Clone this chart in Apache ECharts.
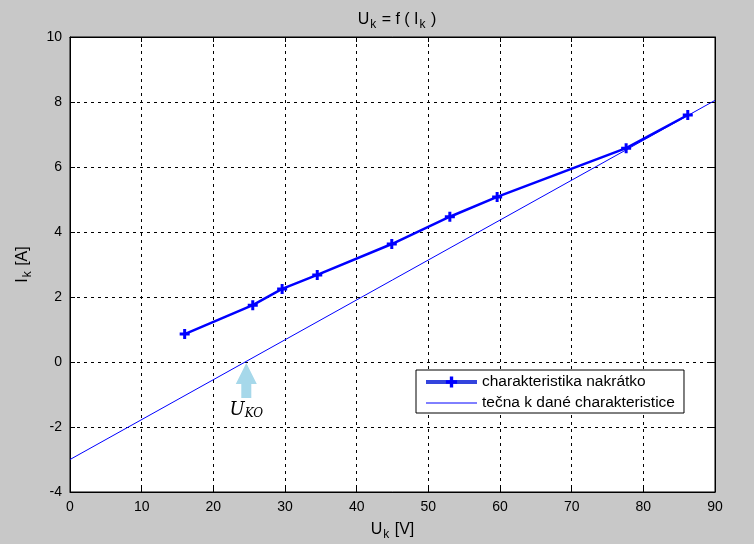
<!DOCTYPE html>
<html><head><meta charset="utf-8">
<script src="https://cdn.jsdelivr.net/npm/echarts@6/dist/echarts.min.js"></script>
<style>html,body{margin:0;padding:0;background:#c8c8c8;}#c{width:754px;height:544px;}</style>
</head><body><div id="c"></div>
<script>
const measU = [16.0, 25.5, 29.6, 34.5, 44.9, 53.0, 59.6, 77.6, 86.2];
const measI = [0.86, 1.75, 2.25, 2.68, 3.63, 4.47, 5.08, 6.58, 7.6];
const tangentU = [0, 90];
const tangentI = [-3.0, 8.05];
const ukoPoint = [24.6, -0.57];
const xTicks = [0, 10, 20, 30, 40, 50, 60, 70, 80, 90];
const yTicks = [-4, -2, 0, 2, 4, 6, 8, 10];
const seriesNames = ['charakteristika nakrátko', 'tečna k dané charakteristice'];

const chart = echarts.init(document.getElementById('c'), null, {renderer: 'canvas'});
const font = 'Liberation Sans, Arial, sans-serif';
const plus = 'path://M3.5,0H6.5V3.5H10V6.5H6.5V10H3.5V6.5H0V3.5H3.5Z';
const blue = '#0000ff';
const axisCommon = {
  axisLine: {show: true, onZero: false, lineStyle: {color: '#000', width: 1}},
  axisTick: {show: true, inside: true, length: 5, lineStyle: {color: '#000'}},
};
const subRich = {
  n: {fontFamily: font, fontSize: 16, color: '#000', fontWeight: 'normal'},
  s: {fontFamily: font, fontSize: 12, color: '#000', fontWeight: 'normal', padding: [11, 1, 0, 1]}
};
chart.setOption({
  backgroundColor: '#c8c8c8',
  animation: false,
  title: {
    text: '{n|U}{s|k}{n| = f ( I}{s|k}{n| )}',
    left: 392, top: 3, textAlign: 'center',
    textStyle: {fontWeight: 'normal', rich: subRich}
  },
  grid: {left: 70, right: 39, top: 37, bottom: 52, containLabel: false, outerBoundsMode: 'none',
    show: true, backgroundColor: '#fff', borderColor: '#000', borderWidth: 1},
  legend: {
    orient: 'vertical', left: 416, top: 370,
    backgroundColor: '#fff', borderColor: '#000', borderWidth: 1,
    padding: [4, 9, 2, 8], itemGap: 5, itemWidth: 51, itemHeight: 14,
    textStyle: {fontFamily: font, fontSize: 15.5, color: '#000'},
    data: [
      {name: seriesNames[0], lineStyle: {width: 4, color: '#3344dd'}, itemStyle: {color: blue}},
      {name: seriesNames[1], lineStyle: {width: 1, color: blue}, itemStyle: {opacity: 0}}
    ]
  },
  xAxis: [{
    type: 'value', min: 0, max: 90, interval: 10, position: 'bottom',
    ...axisCommon,
    axisLabel: {fontFamily: font, fontSize: 14, color: '#000', margin: 8,
      formatter: v => xTicks.includes(v) ? String(v) : ''},
    splitLine: {show: true, lineStyle: {color: '#000', type: [3, 4], width: 1}},
    name: '{n|U}{s|k}{n| [V]}', nameLocation: 'middle', nameGap: 26,
    nameTextStyle: {rich: subRich}
  }, {
    type: 'value', min: 0, max: 90, interval: 10, position: 'top',
    ...axisCommon, axisLabel: {show: false}, splitLine: {show: false}
  }],
  yAxis: [{
    type: 'value', min: -4, max: 10, interval: 2, position: 'left',
    ...axisCommon,
    axisLabel: {fontFamily: font, fontSize: 14, color: '#000', margin: 8,
      formatter: v => yTicks.includes(v) ? String(v) : ''},
    splitLine: {show: true, lineStyle: {color: '#000', type: [3, 4], width: 1}},
    name: '{n|I}{s|k}{n| [A]}', nameLocation: 'middle', nameGap: 36, nameRotate: 90,
    nameTextStyle: {rich: subRich}
  }, {
    type: 'value', min: -4, max: 10, interval: 2, position: 'right',
    ...axisCommon, axisLabel: {show: false}, splitLine: {show: false}
  }],
  series: [{
    name: seriesNames[0], type: 'line',
    data: measU.map((u, i) => [u, measI[i]]),
    symbol: plus, symbolSize: 10, showAllSymbol: true,
    lineStyle: {color: blue, width: 2.5}, itemStyle: {color: blue},
    z: 3
  }, {
    name: seriesNames[1], type: 'line',
    data: tangentU.map((u, i) => [u, tangentI[i]]),
    symbol: 'none', lineStyle: {color: blue, width: 1}, itemStyle: {color: blue},
    markPoint: {
      symbol: 'path://M10.5,0L21,21H15.5V35H5.5V21H0Z', symbolSize: [21, 35], symbolKeepAspect: false,
      itemStyle: {color: '#a6d8ea'},
      label: {show: true, position: 'bottom', distance: 2,
        formatter: '{u|U}{k|KO}',
        rich: {
          u: {fontFamily: 'DejaVu Serif, serif', fontStyle: 'italic', fontSize: 18, color: '#000'},
          k: {fontFamily: 'DejaVu Serif, serif', fontStyle: 'italic', fontSize: 12, color: '#000', padding: [8, 0, 0, 0]}
        }},
      data: [{coord: ukoPoint}]
    },
    z: 2
  }]
});
</script></body></html>
